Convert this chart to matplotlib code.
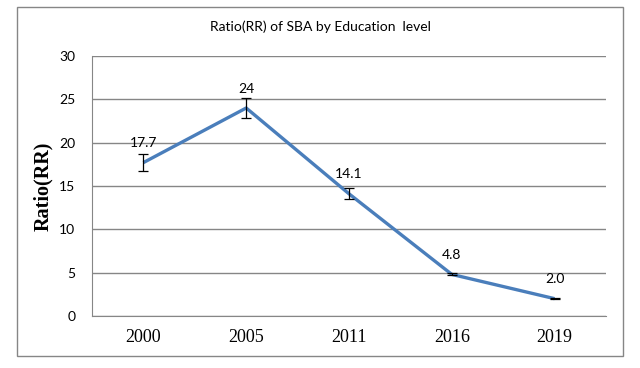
import matplotlib.pyplot as plt
from matplotlib.patches import Rectangle

# data
years = ['2000', '2005', '2011', '2016', '2019']
ratio = [17.7, 24.0, 14.1, 4.8, 2.0]
ratio_err = [0.95, 1.2, 0.65, 0.12, 0.05]
point_labels = ['17.7', '24', '14.1', '4.8', '2.0']
y_ticks = [0, 5, 10, 15, 20, 25, 30]

line_color = '#4A7EBB'
grid_color = '#868686'

fig = plt.figure(figsize=(6.4, 3.68), dpi=100)
fig.patch.set_facecolor('white')

# outer frame around the whole chart
fig.patches.append(Rectangle((17 / 640, 1 - 356 / 368), 606 / 640, 349 / 368,
                             transform=fig.transFigure, fill=False,
                             edgecolor=grid_color, linewidth=1.0))

ax = fig.add_axes([92 / 640, 1 - 316 / 368, 514 / 640, 260 / 368])
x = list(range(len(years)))

ax.plot(x, ratio, color=line_color, linewidth=2.4, zorder=3, solid_capstyle='butt')
ax.errorbar(x, ratio, yerr=ratio_err, fmt='none', ecolor='black',
            elinewidth=0.9, capsize=3.5, capthick=0.9, zorder=4)

for xi, yi, lab in zip(x, ratio, point_labels):
    ax.annotate(lab, (xi, yi), xytext=(0, 14), textcoords='offset points',
                ha='center', va='center', fontsize=10, family='Lato')

ax.set_xlim(-0.5, len(years) - 0.5)
ax.set_ylim(0, 30)
ax.set_yticks(y_ticks)
ax.set_yticklabels([str(v) for v in y_ticks], family='Lato', fontsize=10)
ax.set_xticks(x)
ax.set_xticklabels(years, family='Liberation Serif', fontsize=13)
ax.tick_params(axis='y', length=0, pad=12)
ax.tick_params(axis='x', length=0, pad=9)

ax.yaxis.grid(True, color=grid_color, linewidth=1.0)
ax.set_axisbelow(True)
for s in ['top', 'right']:
    ax.spines[s].set_visible(False)
ax.spines['left'].set_color(grid_color)
ax.spines['bottom'].set_color(grid_color)

ax.set_ylabel('Ratio(RR)', family='Liberation Serif', fontsize=14.5,
              fontweight='bold', labelpad=4)

fig.text(320 / 640, 1 - 27 / 368, 'Ratio(RR) of SBA by Education  level',
         ha='center', va='center', fontsize=10, family='Lato')

fig.savefig('out.png', dpi=100)
